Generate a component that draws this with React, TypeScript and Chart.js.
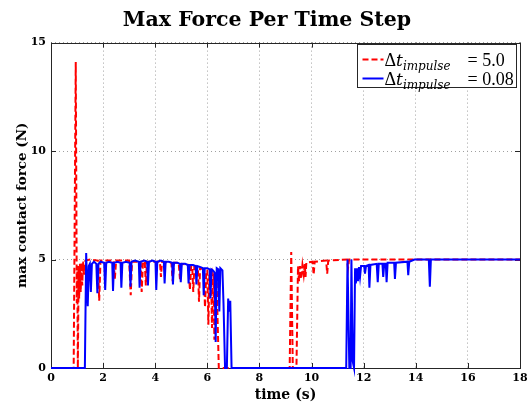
import React, { useEffect, useRef } from 'react';
import { Chart, registerables } from 'chart.js';

Chart.register(...registerables);

const titleText = 'Max Force Per Time Step';
const xTitle = 'time (s)';
const yTitle = 'max contact force (N)';
const xTickValues = [0, 2, 4, 6, 8, 10, 12, 14, 16, 18];
const yTickValues = [0, 5, 10, 15];
const legendValues = ['5.0', '0.08'];

// Δt_impulse = 5.0 (red dashed)
const redTime = [0, 0.87, 0.95, 0.99, 1.01, 1.03, 1.06, 1.08, 1.11, 1.14, 1.17, 1.2, 1.23, 1.27, 1.32, 1.5, 1.8, 1.85, 1.9, 2.4, 2.45, 2.5, 3.0, 3.06, 3.11, 3.44, 3.48, 3.53, 3.6, 3.64, 3.68, 4.18, 4.22, 4.26, 4.62, 4.67, 4.72, 4.9, 4.95, 5.0, 5.28, 5.33, 5.38, 5.42, 5.46, 5.5, 5.64, 5.68, 5.72, 5.86, 5.91, 5.96, 6.0, 6.04, 6.08, 6.14, 6.18, 6.22, 6.24, 6.27, 6.31, 6.36, 6.44, 9.16, 9.22, 9.28, 9.42, 9.48, 9.52, 9.56, 9.6, 9.65, 9.7, 9.74, 9.77, 9.8, 10.04, 10.08, 10.12, 10.56, 10.6, 10.64, 11.36, 11.4, 11.44, 18];
const redForce = [0, 0, 14.1, 3.0, 4.5, 0, 4.7, 3.2, 4.8, 3.5, 4.85, 3.8, 4.9, 4.3, 4.95, 5.0, 4.95, 3.1, 4.95, 4.95, 4.1, 4.95, 4.95, 3.35, 4.9, 4.9, 3.5, 4.9, 4.9, 3.8, 4.9, 4.9, 4.2, 4.9, 4.85, 4.0, 4.85, 4.85, 4.1, 4.8, 4.75, 3.6, 4.7, 4.7, 3.5, 4.65, 4.6, 3.05, 4.6, 4.55, 2.8, 4.5, 4.5, 2.0, 4.4, 4.4, 1.85, 4.3, 4.2, 1.3, 4.0, 3.9, 0, 0, 5.35, 0, 0, 4.7, 4.0, 4.7, 4.1, 4.75, 4.3, 4.8, 4.2, 4.85, 4.9, 4.3, 4.9, 4.95, 4.35, 4.95, 5.0, 4.6, 5.0, 5.0];

// Δt_impulse = 0.08 (blue solid)
const blueTime = [0, 1.3, 1.35, 1.41, 1.45, 1.49, 1.53, 1.57, 1.65, 1.74, 1.78, 1.82, 1.9, 2.04, 2.08, 2.12, 2.22, 2.35, 2.38, 2.42, 2.55, 2.67, 2.7, 2.74, 2.88, 3.02, 3.05, 3.09, 3.22, 3.37, 3.4, 3.44, 3.58, 3.69, 3.72, 3.76, 3.9, 4.01, 4.04, 4.08, 4.22, 4.33, 4.36, 4.4, 4.52, 4.65, 4.68, 4.72, 4.85, 4.95, 4.98, 5.02, 5.15, 5.25, 5.28, 5.32, 5.45, 5.55, 5.58, 5.62, 5.74, 5.83, 5.86, 5.9, 6.0, 6.09, 6.12, 6.16, 6.22, 6.28, 6.32, 6.36, 6.42, 6.46, 6.5, 6.58, 6.62, 6.68, 6.75, 6.8, 6.84, 6.88, 6.93, 11.33, 11.38, 11.45, 11.5, 11.53, 11.58, 11.63, 11.67, 11.7, 11.74, 11.78, 11.82, 11.86, 11.9, 12.02, 12.05, 12.09, 12.19, 12.22, 12.26, 12.5, 12.54, 12.58, 12.72, 12.75, 12.79, 12.85, 12.88, 12.92, 13.17, 13.2, 13.24, 13.68, 13.71, 13.75, 13.95, 14.5, 14.54, 14.58, 18];
const blueForce = [0, 0, 5.3, 2.85, 4.7, 4.8, 3.5, 4.8, 4.9, 4.8, 3.45, 4.8, 4.9, 4.85, 3.6, 4.85, 4.9, 4.85, 3.55, 4.85, 4.9, 4.85, 3.7, 4.85, 4.9, 4.85, 3.75, 4.9, 4.95, 4.9, 3.7, 4.9, 4.95, 4.9, 3.8, 4.9, 4.95, 4.9, 3.6, 4.9, 4.95, 4.9, 3.9, 4.9, 4.9, 4.85, 3.85, 4.85, 4.85, 4.8, 3.95, 4.8, 4.8, 4.75, 3.9, 4.75, 4.75, 4.7, 3.85, 4.7, 4.65, 4.6, 3.35, 4.6, 4.6, 4.55, 3.2, 4.55, 4.5, 4.4, 1.2, 4.6, 4.55, 2.6, 4.6, 4.5, 3.0, 0, 0, 3.2, 2.6, 3.1, 0, 0, 5.0, 0, 0, 5.0, 0.3, 0, 4.6, 3.9, 4.6, 4.0, 4.65, 4.2, 4.7, 4.7, 4.35, 4.7, 4.75, 3.7, 4.75, 4.8, 3.95, 4.8, 4.8, 4.2, 4.8, 4.8, 3.95, 4.85, 4.85, 4.1, 4.85, 4.9, 4.28, 4.9, 5.0, 5.0, 3.75, 5.0, 5.0];

const toPoints = (xs: number[], ys: number[]) => xs.map((x, i) => ({ x, y: ys[i] }));

const SERIF = '"DejaVu Serif", "Liberation Serif", serif';

const framePlugin = {
  id: 'frame',
  beforeDatasetsDraw(chart: any) {
    const { ctx, chartArea, scales } = chart;
    const { left, right, top, bottom } = chartArea;
    ctx.save();
    ctx.strokeStyle = '#262626';
    ctx.lineWidth = 1;
    ctx.beginPath();
    for (const t of scales.x.ticks) {
      const px = Math.round(scales.x.getPixelForValue(t.value)) + 0.5;
      ctx.moveTo(px, bottom); ctx.lineTo(px, bottom - 5);
      ctx.moveTo(px, top); ctx.lineTo(px, top + 5);
    }
    for (const t of scales.y.ticks) {
      const py = Math.round(scales.y.getPixelForValue(t.value)) + 0.5;
      ctx.moveTo(left, py); ctx.lineTo(left + 5, py);
      ctx.moveTo(right, py); ctx.lineTo(right - 5, py);
    }
    ctx.stroke();
    ctx.strokeRect(Math.round(left) + 0.5, Math.round(top) + 0.5, Math.round(right - left), Math.round(bottom - top));
    ctx.restore();
  },
  afterDraw(chart: any) {
    const { ctx, chartArea } = chart;
    const { right, top } = chartArea;
    const bw = 159, bh = 43;
    const bx = Math.round(right - 4 - bw) + 0.5;
    const by = Math.round(top + 1) + 0.5;
    ctx.save();
    ctx.fillStyle = '#ffffff';
    ctx.fillRect(bx, by, bw, bh);
    ctx.strokeStyle = '#262626';
    ctx.lineWidth = 1;
    ctx.strokeRect(bx, by, bw, bh);
    const entries = [
      { color: '#ff0000', dash: [6, 3], value: legendValues[0] },
      { color: '#0000ff', dash: [], value: legendValues[1] },
    ];
    entries.forEach((e, i) => {
      const cy = by + 15 + i * 19;
      ctx.strokeStyle = e.color;
      ctx.lineWidth = 2;
      ctx.setLineDash(e.dash);
      ctx.beginPath();
      ctx.moveTo(bx + 5, cy);
      ctx.lineTo(bx + 26, cy);
      ctx.stroke();
      ctx.setLineDash([]);
      ctx.fillStyle = '#000000';
      ctx.textBaseline = 'alphabetic';
      ctx.textAlign = 'left';
      const base = cy + 6;
      let tx = bx + 27;
      ctx.font = '18px "Liberation Serif", serif';
      ctx.fillText('Δ', tx, base);
      tx += ctx.measureText('Δ').width;
      ctx.font = 'italic 17px "DejaVu Serif", serif';
      ctx.fillText('t', tx, base);
      tx += ctx.measureText('t').width;
      ctx.font = 'italic 12px "DejaVu Serif", serif';
      ctx.fillText('impulse', tx, base + 4);
      ctx.font = '18px "Liberation Serif", serif';
      ctx.fillText('= ' + e.value, bx + 110, base);
    });
    ctx.restore();
  },
};

export default function App() {
  const ref = useRef<HTMLCanvasElement | null>(null);
  useEffect(() => {
    if (!ref.current) return;
    const chart = new Chart(ref.current, {
      type: 'line',
      data: {
        datasets: [
          {
            label: 'Δt impulse = ' + legendValues[0],
            data: toPoints(redTime, redForce),
            borderColor: '#ff0000',
            borderWidth: 2,
            borderDash: [6, 3],
            pointRadius: 0,
            tension: 0,
            fill: false,
            clip: false as any,
            order: 2,
          },
          {
            label: 'Δt impulse = ' + legendValues[1],
            data: toPoints(blueTime, blueForce),
            borderColor: '#0000ff',
            borderWidth: 2,
            pointRadius: 0,
            tension: 0,
            fill: false,
            clip: false as any,
            order: 1,
          },
        ],
      },
      options: {
        animation: false,
        responsive: false,
        maintainAspectRatio: false,
        layout: { padding: { left: 14, right: 12, top: 0, bottom: 0 } },
        plugins: {
          legend: { display: false },
          tooltip: { enabled: false },
          title: {
            display: true,
            text: titleText,
            color: '#000',
            font: { family: SERIF, size: 20.5, weight: 'bold' },
            padding: { top: 8, bottom: 10 },
          },
        },
        scales: {
          x: {
            type: 'linear',
            min: 0,
            max: 18,
            afterBuildTicks: (s: any) => { s.ticks = xTickValues.map((v) => ({ value: v })); },
            afterFit: (s: any) => { s.height = 42; },
            ticks: { color: '#000', font: { family: SERIF, size: 11, weight: 'bold' }, padding: 4, maxRotation: 0 },
            grid: { color: '#a0a0a0', drawTicks: false, lineWidth: 1 },
            border: { display: false, dash: [1, 3] },
            title: { display: true, text: xTitle, color: '#000', font: { family: SERIF, size: 14, weight: 'bold' }, padding: { top: 0, bottom: 6 } },
          },
          y: {
            type: 'linear',
            min: 0,
            max: 15,
            afterBuildTicks: (s: any) => { s.ticks = yTickValues.map((v) => ({ value: v })); },
            afterFit: (s: any) => { s.width = 37; },
            ticks: { color: '#000', font: { family: SERIF, size: 11, weight: 'bold' }, padding: 5 },
            grid: { color: '#a0a0a0', drawTicks: false, lineWidth: 1 },
            border: { display: false, dash: [1, 3] },
            title: { display: true, text: yTitle, color: '#000', font: { family: SERIF, size: 13.5, weight: 'bold' }, padding: { top: 0, bottom: 0 } },
          },
        },
      },
      plugins: [framePlugin],
    });
    return () => chart.destroy();
  }, []);
  return (
    <div style={{ position: 'absolute', left: 0, top: 0, width: 532, height: 410, background: '#fff' }}>
      <canvas ref={ref} width={532} height={410} style={{ display: 'block' }} />
    </div>
  );
}
